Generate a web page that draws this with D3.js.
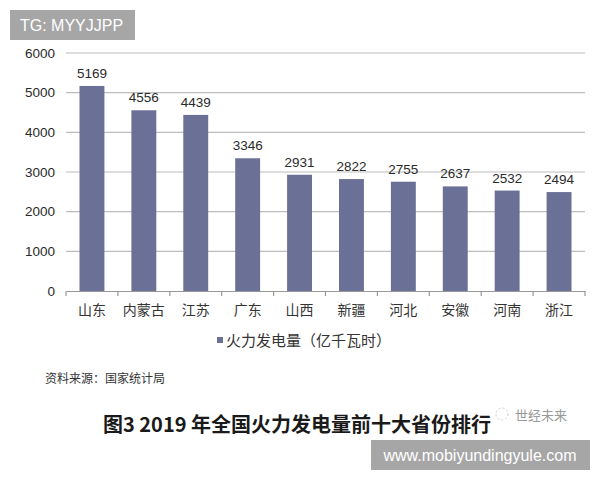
<!DOCTYPE html>
<html><head><meta charset="utf-8">
<script src="https://cdn.jsdelivr.net/npm/d3@7"></script>
<style>body{margin:0;background:#fff;}svg{display:block;}</style>
</head><body>
<svg id="c" width="600" height="480"></svg>
<script>
const categories = ["山东","内蒙古","江苏","广东","山西","新疆","河北","安徽","河南","浙江"];
const values = [5169,4556,4439,3346,2931,2822,2755,2637,2532,2494];
const yTicks = [0,1000,2000,3000,4000,5000,6000];
const legendLabel = "火力发电量（亿千瓦时）";
const sourceText = "资料来源：国家统计局";
const titleText = "图3 2019 年全国火力发电量前十大省份排行";

(function () {
const svg = d3.select("#c");
const font = "'Liberation Sans', Arial, 'Noto Sans CJK SC', sans-serif";
const cjk = "'Noto Sans CJK SC', sans-serif";
const mLeft = 66, mRight = 585, mTop = 53, mBottom = 291;

const x = d3.scaleBand().domain(categories).range([mLeft, mRight]).paddingInner(0.52).paddingOuter(0.26);
const xb = d3.scaleBand().domain(categories).range([mLeft, mRight]);
const y = d3.scaleLinear().domain([0, 6000]).range([mBottom, mTop]);

// gridlines
svg.append("g").selectAll("line").data(yTicks.filter(d => d > 0)).join("line")
  .attr("x1", mLeft).attr("x2", mRight)
  .attr("y1", d => y(d)).attr("y2", d => y(d))
  .attr("stroke", "#bdbdbd").attr("stroke-width", 1.2);

// y axis labels
const ya = svg.append("g").attr("transform", `translate(${mLeft},0)`)
  .call(d3.axisLeft(y).tickValues(yTicks).tickSize(0).tickPadding(11).tickFormat(d3.format("d")));
ya.select(".domain").remove();
ya.selectAll("text").attr("font-family", font).attr("font-size", 13.5).attr("fill", "#2a2a2a");

// bars
svg.append("g").selectAll("rect").data(values).join("rect")
  .attr("x", (d, i) => x(categories[i]))
  .attr("width", x.bandwidth())
  .attr("y", d => y(d))
  .attr("height", d => y(0) - y(d))
  .attr("fill", "#6b7096");

// value labels
svg.append("g").selectAll("text").data(values).join("text")
  .attr("x", (d, i) => x(categories[i]) + x.bandwidth() / 2)
  .attr("y", d => y(d) - 8)
  .attr("text-anchor", "middle")
  .attr("font-family", font).attr("font-size", 13.5).attr("fill", "#2a2a2a")
  .text(d => d);

// x axis
const xa = svg.append("g").attr("transform", `translate(0,${mBottom})`)
  .call(d3.axisBottom(xb).tickSize(0).tickPadding(14));
xa.select(".domain").attr("stroke", "#999").attr("stroke-width", 1.2);
xa.selectAll("text").attr("font-family", cjk).attr("font-size", 14).attr("fill", "#333");
// boundary ticks
svg.append("g").selectAll("line").data(d3.range(categories.length + 1)).join("line")
  .attr("x1", i => mLeft + i * xb.step()).attr("x2", i => mLeft + i * xb.step())
  .attr("y1", mBottom).attr("y2", mBottom + 5)
  .attr("stroke", "#999").attr("stroke-width", 1.2);

// legend
svg.append("rect").attr("x", 217).attr("y", 337).attr("width", 6).attr("height", 6).attr("fill", "#6b7096");
svg.append("text").attr("x", 226).attr("y", 346).attr("font-family", cjk).attr("font-size", 15).attr("fill", "#333").text(legendLabel);

// source
svg.append("text").attr("x", 45).attr("y", 383).attr("font-family", cjk).attr("font-size", 12).attr("fill", "#333").text(sourceText);

// title
svg.append("text").attr("x", 297).attr("y", 432).attr("text-anchor", "middle")
  .attr("font-family", cjk).attr("font-size", 20).attr("font-weight", "bold").attr("fill", "#1a1a1a").text(titleText);

// watermark
svg.append("text").attr("x", 515).attr("y", 420).attr("font-family", cjk).attr("font-size", 13).attr("fill", "#999").text("世经未来");
svg.append("circle").attr("cx", 502).attr("cy", 414).attr("r", 6).attr("fill", "none").attr("stroke", "#ccc").attr("stroke-dasharray", "2,2");

// top-left box
svg.append("rect").attr("x", 10).attr("y", 10).attr("width", 125).attr("height", 30).attr("fill", "#a6a6a6");
svg.append("text").attr("x", 20).attr("y", 31).attr("font-family", font).attr("font-size", 16).attr("fill", "#fff").text("TG: MYYJJPP");

// bottom-right box
svg.append("rect").attr("x", 371).attr("y", 440).attr("width", 219).attr("height", 30).attr("fill", "#a6a6a6");
svg.append("text").attr("x", 480).attr("y", 461).attr("text-anchor", "middle").attr("font-family", font).attr("font-size", 16).attr("fill", "#fff").text("www.mobiyundingyule.com");
})();
</script>
</body></html>
